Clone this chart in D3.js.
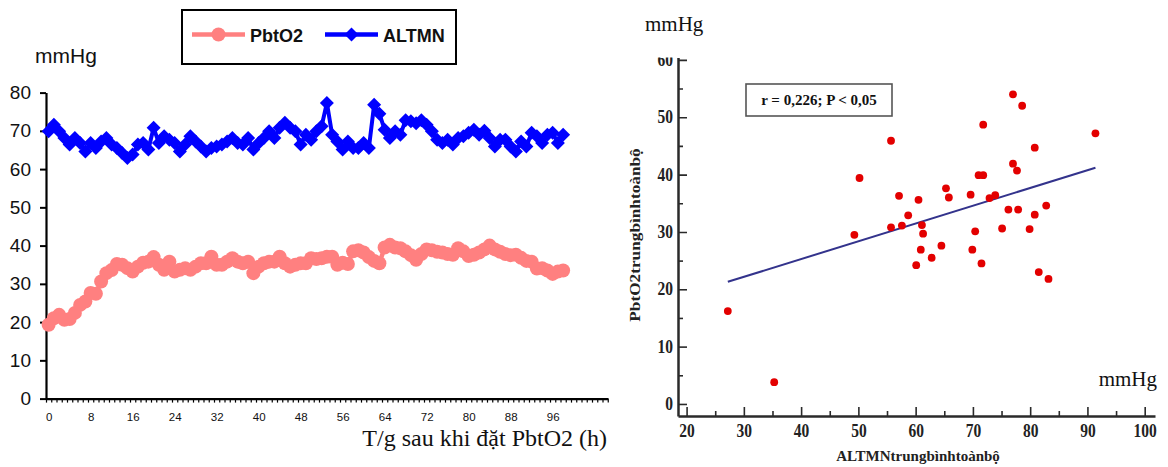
<!DOCTYPE html>
<html>
<head>
<meta charset="utf-8">
<script src="https://cdn.jsdelivr.net/npm/d3@7"></script>
<style>
  body { margin: 0; background: #fff; }
  svg { display: block; }
</style>
</head>
<body>
<svg id="chart" width="1168" height="467"></svg>
<script>
// ---------- Left panel: hourly PbtO2 and ALTMN after probe placement ----------
const pbtO2 = [
  19.3, 21.0, 21.9, 20.6, 20.8, 22.4, 24.5, 25.4, 27.6, 27.4,
  30.6, 32.8, 33.6, 35.2, 35.0, 34.1, 33.2, 34.5, 35.5, 35.8,
  37.0, 35.0, 33.7, 35.8, 33.2, 33.7, 34.1, 33.7, 34.5, 35.4,
  35.4, 37.1, 35.0, 35.0, 35.8, 36.7, 35.8, 35.4, 35.8, 32.8,
  34.5, 35.4, 35.8, 35.8, 37.1, 35.4, 34.5, 35.0, 35.4, 35.4,
  36.7, 36.5, 36.7, 37.1, 37.1, 35.0, 35.5, 35.2, 38.5, 38.8,
  38.2, 37.0, 36.0, 35.4, 39.5, 40.2, 39.5, 39.3, 38.5, 37.5,
  36.3, 37.8, 39.0, 38.8, 38.4, 38.2, 37.8, 37.6, 39.3, 38.5,
  37.3, 37.6, 38.2, 39.0, 40.0, 39.0, 38.4, 37.8, 37.5, 37.6,
  36.8, 36.0, 35.8, 34.0, 34.1, 33.5, 32.6, 33.2, 33.5
];
const altmn = [
  69.9, 71.6, 69.9, 68.1, 66.4, 68.1, 66.8, 64.6, 66.8, 65.5,
  67.2, 68.1, 66.4, 65.5, 64.2, 62.9, 63.8, 66.4, 66.8, 65.1,
  70.8, 66.8, 68.6, 67.7, 66.8, 64.6, 66.4, 68.6, 67.2, 65.9,
  64.6, 65.5, 65.9, 66.4, 67.2, 68.1, 66.8, 66.4, 68.1, 65.1,
  66.8, 68.1, 69.9, 68.1, 70.8, 72.1, 70.8, 69.9, 66.4, 69.0,
  67.7, 69.9, 71.2, 77.3, 69.0, 67.2, 65.1, 67.2, 65.5, 65.5,
  66.8, 65.5, 76.8, 74.5, 70.3, 68.1, 69.9, 69.0, 72.8, 72.5,
  72.0, 72.8, 71.6, 69.9, 67.7, 66.8, 67.7, 66.4, 68.1, 68.6,
  69.5, 70.3, 69.0, 70.0, 68.1, 65.9, 67.7, 67.7, 65.9, 64.6,
  67.2, 65.9, 69.5, 68.6, 66.8, 69.0, 69.5, 66.8, 69.0
];
const hourSlots = 107;                 // category slots on the time axis
const hourTickLabels = [0, 8, 16, 24, 32, 40, 48, 56, 64, 72, 80, 88, 96];
const pressureTicks = [0, 10, 20, 30, 40, 50, 60, 70, 80];
const seriesNames = ["PbtO2", "ALTMN"];

// ---------- Right panel: mean ALTMN vs mean PbtO2 per patient ----------
const altmnMean = [
  27.2, 35.3, 49.3, 55.7, 50.2, 57.1, 55.7, 77.0, 78.6, 71.8,
  91.4, 80.8, 77.0, 77.7, 71.0, 71.8, 65.3, 65.8, 60.5, 69.6,
  72.9, 73.9, 58.7, 57.6, 61.1, 61.3, 60.9, 60.1, 62.8, 64.5,
  76.2, 77.9, 80.8, 82.8, 70.4, 69.9, 71.5, 75.1, 79.9, 81.5,
  83.2
];
const pbtO2Mean = [
  16.2, 3.8, 29.5, 45.9, 39.4, 36.3, 30.8, 54.0, 52.0, 48.7,
  47.2, 44.7, 41.9, 40.7, 39.9, 39.9, 37.6, 36.0, 35.6, 36.5,
  35.9, 36.4, 32.9, 31.1, 31.2, 29.7, 26.9, 24.2, 25.5, 27.6,
  33.9, 33.9, 33.0, 34.6, 30.1, 26.9, 24.5, 30.6, 30.5, 23.0,
  21.8
];
const fitAltmn = [27.2, 91.4];
const fitPbtO2 = [21.3, 41.2];
const scatterXMajor = [20, 30, 40, 50, 60, 70, 80, 90, 100];
const scatterXMinor = [25, 35, 45, 55, 65, 75, 85, 95];
const scatterYMajor = [0, 10, 20, 30, 40, 50, 60];
const scatterYMinor = [5, 15, 25, 35, 45, 55];
const corrLabel = "r = 0,226; P < 0,05";

const svg = d3.select("#chart");
const SANS = "'Liberation Sans', Arial, sans-serif";
const SERIF = "'Liberation Serif', 'Times New Roman', serif";
const PINK = "#ff8080";
const BLUE = "#0000ff";

// ================= Left panel =================
const x = d3.scaleLinear().domain([-0.5, hourSlots - 0.5]).range([46, 46 + hourSlots * 5.25]);
const y = d3.scaleLinear().domain([0, 80]).range([398.6, 92.6]);

const left = svg.append("g");

// y axis
const yAxis = left.append("g")
  .attr("transform", `translate(${x.range()[0]},0)`)
  .call(d3.axisLeft(y).tickValues(pressureTicks).tickSize(6).tickSizeOuter(0).tickPadding(9));
yAxis.select(".domain").attr("stroke", "#000").attr("stroke-width", 2.2);
yAxis.selectAll(".tick line").attr("stroke", "#000").attr("stroke-width", 2);
yAxis.selectAll("text").attr("font-family", SANS).attr("font-size", 19).attr("fill", "#111");

// x axis: minor ticks at every hour boundary
const boundaries = d3.range(hourSlots + 1).map(i => i - 0.5);
const xAxis = left.append("g")
  .attr("transform", `translate(0,${y(0)})`)
  .call(d3.axisBottom(x).tickValues(boundaries).tickSize(4).tickSizeOuter(0).tickFormat(""));
xAxis.select(".domain").attr("stroke", "#000").attr("stroke-width", 2.2);
xAxis.selectAll(".tick line").attr("stroke", "#000").attr("stroke-width", 1.2);

const xLabels = left.append("g")
  .attr("transform", `translate(0,${y(0)})`)
  .call(d3.axisBottom(x).tickValues(hourTickLabels).tickSize(0).tickPadding(14));
xLabels.select(".domain").remove();
xLabels.selectAll("text").attr("font-family", SANS).attr("font-size", 11.5).attr("fill", "#111");

// series
const lineGen = d3.line().x((d, i) => x(i)).y(d => y(d));

left.append("path").datum(pbtO2)
  .attr("d", lineGen).attr("fill", "none")
  .attr("stroke", PINK).attr("stroke-width", 4.5).attr("stroke-linejoin", "round");
left.append("g").selectAll("circle").data(pbtO2).join("circle")
  .attr("cx", (d, i) => x(i)).attr("cy", d => y(d)).attr("r", 7).attr("fill", PINK);

const diamond = s => `M0,${-s}L${s},0L0,${s}L${-s},0Z`;
left.append("path").datum(altmn)
  .attr("d", lineGen).attr("fill", "none")
  .attr("stroke", BLUE).attr("stroke-width", 4).attr("stroke-linejoin", "round");
left.append("g").selectAll("path").data(altmn).join("path")
  .attr("transform", (d, i) => `translate(${x(i)},${y(d)})`)
  .attr("d", diamond(7)).attr("fill", BLUE);

// unit and axis title
left.append("text").attr("x", 35).attr("y", 63)
  .attr("font-family", SANS).attr("font-size", 21).attr("fill", "#111").text("mmHg");
left.append("text").attr("x", 607).attr("y", 446).attr("text-anchor", "end")
  .attr("font-family", SERIF).attr("font-size", 24).attr("fill", "#111")
  .text("T/g sau khi đặt PbtO2 (h)");

// legend
const legend = left.append("g");
legend.append("rect").attr("x", 182).attr("y", 10).attr("width", 274).attr("height", 54)
  .attr("fill", "#fff").attr("stroke", "#000").attr("stroke-width", 2);
const legendItems = [
  { name: seriesNames[0], color: PINK, x0: 192, marker: "circle" },
  { name: seriesNames[1], color: BLUE, x0: 325, marker: "diamond" }
];
legendItems.forEach(it => {
  legend.append("line").attr("x1", it.x0).attr("x2", it.x0 + 53).attr("y1", 34.5).attr("y2", 34.5)
    .attr("stroke", it.color).attr("stroke-width", 4.5);
  if (it.marker === "circle") {
    legend.append("circle").attr("cx", it.x0 + 26.5).attr("cy", 34.5).attr("r", 7).attr("fill", it.color);
  } else {
    legend.append("path").attr("transform", `translate(${it.x0 + 26.5},34.5)`)
      .attr("d", diamond(7)).attr("fill", it.color);
  }
  legend.append("text").attr("x", it.x0 + 58).attr("y", 41.5)
    .attr("font-family", SANS).attr("font-weight", "bold").attr("font-size", 18)
    .attr("fill", "#111").text(it.name);
});

// ================= Right panel =================
const sx = d3.scaleLinear().domain([18.5, 101.8]).range([678, 1155]);
const sy = d3.scaleLinear().domain([-2.1, 60.4]).range([416, 57.6]);
const right = svg.append("g");

svg.append("defs").append("clipPath").attr("id", "panelClip")
  .append("rect").attr("x", 600).attr("y", 57.5).attr("width", 568).attr("height", 410);

const axesG = right.append("g").attr("clip-path", "url(#panelClip)");
const AXIS_COLOR = "#2a2a2a";

// x axis with inward ticks
const sxAxis = axesG.append("g").attr("transform", `translate(0,${sy.range()[0]})`)
  .call(d3.axisBottom(sx).tickValues(scatterXMajor.concat(scatterXMinor))
    .tickSize(-9).tickSizeOuter(0).tickPadding(8)
    .tickFormat(d => scatterXMajor.includes(d) ? d : ""));
sxAxis.select(".domain").attr("stroke", AXIS_COLOR).attr("stroke-width", 2.5);
sxAxis.selectAll(".tick line").attr("stroke", AXIS_COLOR).attr("stroke-width", 1.6)
  .attr("y2", d => scatterXMajor.includes(d) ? -9 : -5);
sxAxis.selectAll("text").attr("font-family", SERIF).attr("font-weight", "bold")
  .attr("font-size", 15.5).attr("fill", "#222").attr("dy", "0.71em")
  .attr("transform", "translate(0,8) scale(1,1.15) translate(0,-8)");

// y axis with inward ticks
const syAxis = axesG.append("g").attr("transform", `translate(${sx.range()[0]},0)`)
  .call(d3.axisLeft(sy).tickValues(scatterYMajor.concat(scatterYMinor))
    .tickSize(-9).tickSizeOuter(0).tickPadding(5)
    .tickFormat(d => scatterYMajor.includes(d) ? d : ""));
syAxis.select(".domain").attr("stroke", AXIS_COLOR).attr("stroke-width", 2.5);
syAxis.selectAll(".tick line").attr("stroke", AXIS_COLOR).attr("stroke-width", 1.6)
  .attr("x2", d => scatterYMajor.includes(d) ? 9 : 5);
syAxis.selectAll("text").attr("font-family", SERIF).attr("font-weight", "bold")
  .attr("font-size", 15.5).attr("fill", "#222")
  .attr("transform", "scale(1,1.15)");

// regression line
right.append("path").datum(d3.zip(fitAltmn, fitPbtO2))
  .attr("d", d3.line().x(d => sx(d[0])).y(d => sy(d[1])))
  .attr("stroke", "#33338c").attr("stroke-width", 2).attr("fill", "none");

// points
right.append("g").selectAll("circle").data(d3.zip(altmnMean, pbtO2Mean)).join("circle")
  .attr("cx", d => sx(d[0])).attr("cy", d => sy(d[1])).attr("r", 3.9).attr("fill", "#e30000");

// correlation box
right.append("rect").attr("x", 746).attr("y", 84).attr("width", 146).attr("height", 32)
  .attr("fill", "#fff").attr("stroke", "#555").attr("stroke-width", 1.6);
right.append("text").attr("x", 819).attr("y", 105).attr("text-anchor", "middle")
  .attr("font-family", SERIF).attr("font-weight", "bold").attr("font-size", 15)
  .attr("fill", "#111").text(corrLabel);

// units and titles
right.append("text").attr("x", 645).attr("y", 31).attr("font-family", SERIF)
  .attr("font-size", 21).attr("fill", "#111").text("mmHg");
right.append("text").attr("x", 1157).attr("y", 386).attr("text-anchor", "end")
  .attr("font-family", SERIF).attr("font-size", 21).attr("fill", "#111").text("mmHg");
right.append("text").attr("transform", "translate(640,235) rotate(-90) scale(1.15,1)")
  .attr("text-anchor", "middle").attr("font-family", SERIF).attr("font-weight", "bold")
  .attr("font-size", 15).attr("fill", "#222").text("PbtO2trungbìnhtoànbộ");
right.append("text").attr("x", 918).attr("y", 461).attr("text-anchor", "middle")
  .attr("font-family", SERIF).attr("font-weight", "bold").attr("font-size", 15)
  .attr("fill", "#222").text("ALTMNtrungbìnhtoànbộ");
</script>
</body>
</html>
